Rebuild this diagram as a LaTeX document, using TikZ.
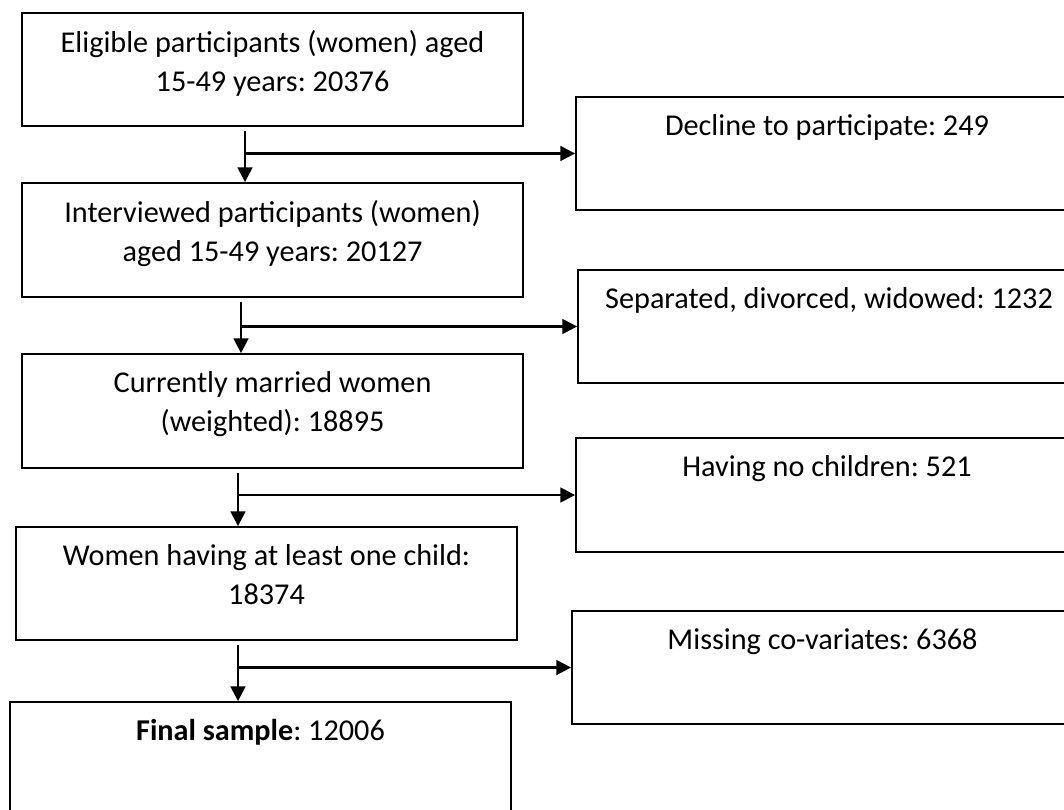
\documentclass[tikz,border=0pt]{standalone}
\usepackage{fontspec}
\setmainfont{Carlito}
\frenchspacing
\usetikzlibrary{arrows.meta}
\newdimen\pxu
\pxu=0.025cm

\tikzset{
  box/.style={draw, line width=1.3pt, minimum width=501\pxu, minimum height=113\pxu, inner sep=0pt},
  txt/.style={align=center, inner sep=2pt, anchor=north, label distance=-11pt, font=\fontsize{21.5}{27.7}\selectfont},
  flow/.style={line width=1.8pt, -{Triangle[length=10.5pt, width=10.5pt]}}
}

\begin{document}
\begin{tikzpicture}[x=0.025cm, y=-0.025cm]
% 1. 画布的大小
\useasboundingbox (0,0) rectangle (1064,809);
\clip (0,0) rectangle (1064,809);

% 2. 左边的主流程框
\node[box, label={[txt]north:{Eligible participants (women) aged\\15-49 years: 20376}}] (b1) at (272.5, 69.5) {};
\node[box, minimum height=114\pxu, label={[txt]north:{Interviewed participants (women)\\aged 15-49 years: 20127}}] (b2) at (272.5, 240) {};
\node[box, minimum height=114\pxu, label={[txt]north:{Currently married women\\(weighted): 18895}}] (b3) at (272.5, 411) {};
\node[box, label={[txt]north:{Women having at least one child:\\18374}}] (b4) at (266.5, 583.5) {};
\node[box, label={[txt]north:{\textbf{Final sample}: 12006}}] (b5) at (260.5, 758.5) {};

% 3. 右边被排除的框
\node[box, minimum width=502\pxu, label={[txt]north:{Decline to participate: 249}}] (r1) at (827, 153.5) {};
\node[box, minimum width=502\pxu, label={[txt]north:{Separated, divorced, widowed: 1232}}] (r2) at (829, 326.5) {};
\node[box, minimum width=502\pxu, minimum height=114\pxu, label={[txt]north:{Having no children: 521}}] (r3) at (827, 495) {};
\node[box, label={[txt]north:{Missing co-variates: 6368}}] (r4) at (822.5, 667.5) {};

% 4. 箭头: 向下一个, 向右一个
\foreach \i/\j/\x in
    {1/2/245, 2/3/241, 3/4/238, 4/5/238}
    {\coordinate (s\i) at (\x, 0);
     \draw[flow, shorten <=3pt] (s\i |- b\i.south) -- (s\i |- b\j.north);
     \draw[flow] (s\i |- r\i.west) -- (r\i.west);
    }
\end{tikzpicture}
\end{document}
